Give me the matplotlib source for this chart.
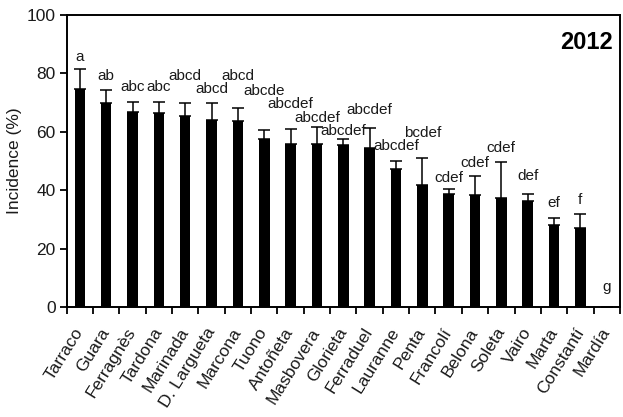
import matplotlib
matplotlib.use("Agg")
import matplotlib.pyplot as plt
import numpy as np

cultivars = ["Tarraco", "Guara", "Ferragnès", "Tardona", "Marinada", "D. Largueta",
             "Marcona", "Tuono", "Antoñeta", "Masbovera", "Glorieta", "Ferraduel",
             "Lauranne", "Penta", "Francolí", "Belona", "Soleta", "Vairo", "Marta",
             "Constantí", "Mardía"]
incidence = [74.7, 69.7, 66.7, 66.3, 65.4, 64.2, 63.7, 57.6, 55.9, 55.9, 55.4,
             54.5, 47.1, 41.7, 38.6, 38.2, 37.2, 36.4, 28.2, 27.0, 0.0]
error = [6.9, 4.6, 3.5, 3.9, 4.3, 5.5, 4.3, 2.9, 5.2, 5.6, 2.2,
         6.8, 3.0, 9.3, 1.9, 6.5, 12.3, 2.3, 2.1, 4.8, 0.0]
letters = ["a", "ab", "abc", "abc", "abcd", "abcd", "abcd", "abcde", "abcdef",
           "abcdef", "abcdef", "abcdef", "abcdef", "bcdef", "cdef", "cdef", "cdef",
           "def", "ef", "f", "g"]
# where each significance letter sits (data units), placed by hand to avoid overlaps
letter_y = [85.6, 79.0, 75.3, 75.3, 79.2, 74.6, 79.0, 73.8, 69.4, 64.6, 60.4,
            67.4, 55.1, 59.6, 44.3, 49.4, 54.5, 44.8, 35.7, 36.6, 6.7]

plt.rcParams["font.family"] = ["Liberation Sans", "DejaVu Sans"]
ink = "#1a1a1a"

fig = plt.figure(figsize=(6.23, 4.17), dpi=100)
ax = fig.add_axes([0.107, 0.264, 0.888, 0.7])

x = np.arange(len(cultivars))
ax.bar(x, incidence, width=0.4, color="black", zorder=2)
ax.errorbar(x, incidence, yerr=[np.zeros(len(error)), error], fmt="none",
            ecolor="black", elinewidth=1.1, capsize=4.2, capthick=1.1, zorder=3)

for xi, lab, ly in zip(x, letters, letter_y):
    ax.text(xi, ly, lab, ha="center", va="center", fontsize=11, color=ink)

ax.text(0.987, 0.907, "2012", transform=ax.transAxes, ha="right", va="center",
        fontsize=17, fontweight="bold", color="black")

ax.set_xlim(-0.5, len(cultivars) - 0.5)
ax.set_ylim(0, 100)
ax.set_yticks([0, 20, 40, 60, 80, 100])
ax.set_xticks(x)
ax.set_xticklabels(cultivars, rotation=58, ha="right", va="center",
                   rotation_mode="anchor", fontsize=12.5, color=ink)
ax.set_xticks(np.arange(-0.5, len(cultivars)), minor=True)
ax.tick_params(axis="x", which="major", length=0, pad=16)
ax.tick_params(axis="x", which="minor", length=5, width=1.3, direction="out")
ax.tick_params(axis="y", length=5, width=1.3, direction="out", labelsize=12.5,
               labelcolor=ink, pad=3)
ax.set_ylabel("Incidence (%)", fontsize=12.5, color=ink, labelpad=3)

for s in ax.spines.values():
    s.set_linewidth(1.4)

fig.savefig("out.png", dpi=100)
